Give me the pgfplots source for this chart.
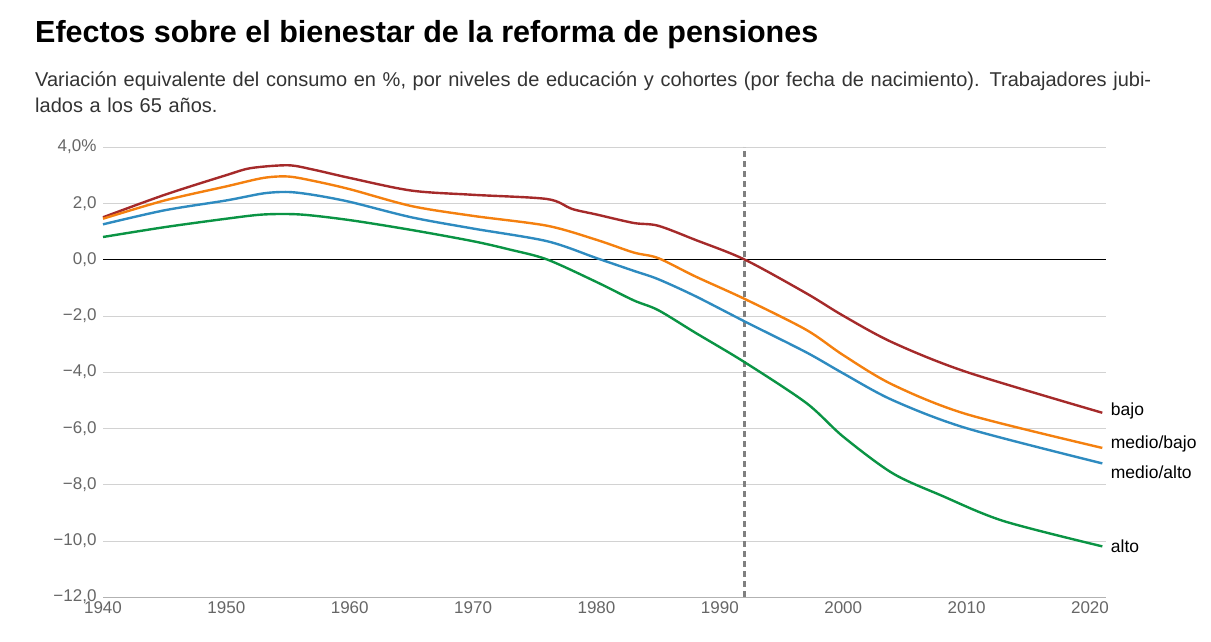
\documentclass[border=0pt]{standalone}
\usepackage{pgfplots}
\pgfplotsset{compat=1.18}
\usepackage{fontspec}
\setmainfont{Liberation Sans}
\definecolor{cr}{HTML}{A52A2A}
\definecolor{co}{HTML}{F4800F}
\definecolor{cb}{HTML}{2E8BC0}
\definecolor{cg}{HTML}{0A9444}
\definecolor{gt}{HTML}{666666}
\begin{document}
\begin{tikzpicture}[x=1pt,y=1pt]
\useasboundingbox (0,0) rectangle (1211,642);
\node[anchor=west,font=\bfseries\fontsize{30.5}{34}\selectfont,inner sep=0pt] at (35,607) {Efectos sobre el bienestar de la reforma de pensiones};
\node[anchor=north west,align=left,font=\fontsize{20}{25.5}\selectfont,text=black!80,text width=1120pt,inner sep=0pt] at (35,570) {Variación equivalente del consumo en \%, por niveles de educación y cohortes (por fecha de nacimiento). Trabajadores jubilados a los 65 años.};
\begin{axis}[at={(103pt,45pt)},anchor=south west,scale only axis,width=1003pt,height=450pt,
 xmin=1940,xmax=2021.3,ymin=-12,ymax=4,
 axis line style={draw=none},
 axis x line*=bottom,
 x axis line style={draw=gray!60},
 xtick={1940,1950,...,2020},
 xticklabels={1940,1950,1960,1970,1980,1990,2000,2010,2020},
 ytick={-12,-10,...,4},
 yticklabels={{−12,0},{−10,0},{−8,0},{−6,0},{−4,0},{−2,0},{0,0},{2,0},{4,0\%}},
 ymajorgrids, grid style={gray!35},
 major tick length=0pt,
 x tick label style={yshift=-1pt},
 tick label style={font=\fontsize{17}{20}\selectfont,text=gt},
 y tick label style={xshift=-3pt},
 clip=false]
\draw[black,line width=0.7pt] (axis cs:1940,0) -- (axis cs:2021.3,0);
\draw[gray,line width=2.2pt,dash pattern=on 6pt off 4pt] (axis cs:1992,-12) -- (axis cs:1992,4);
\addplot[cr,smooth,line width=2.4pt] coordinates {(1940,1.5)(1945,2.3)(1950,3.0)(1952,3.25)(1955,3.35)(1957,3.2)(1960,2.9)(1965,2.45)(1970,2.3)(1976,2.15)(1978,1.8)(1980,1.6)(1983,1.3)(1985,1.2)(1988,0.7)(1992,0)(1997,-1.2)(2000,-2.0)(2004,-2.95)(2010,-4.0)(2021,-5.45)};
\addplot[co,smooth,line width=2.4pt] coordinates {(1940,1.45)(1945,2.1)(1950,2.6)(1953,2.9)(1955,2.95)(1957,2.8)(1960,2.5)(1965,1.9)(1970,1.55)(1976,1.2)(1980,0.7)(1983,0.25)(1985,0.05)(1988,-0.6)(1992,-1.4)(1997,-2.5)(2000,-3.4)(2004,-4.45)(2010,-5.5)(2021,-6.7)};
\addplot[cb,smooth,line width=2.4pt] coordinates {(1940,1.25)(1945,1.75)(1950,2.1)(1953,2.35)(1955,2.4)(1957,2.3)(1960,2.05)(1965,1.5)(1970,1.1)(1976,0.65)(1980,0.05)(1983,-0.4)(1985,-0.7)(1988,-1.3)(1992,-2.2)(1997,-3.3)(2000,-4.05)(2004,-5.0)(2010,-6.0)(2021,-7.25)};
\addplot[cg,smooth,line width=2.4pt] coordinates {(1940,0.8)(1945,1.15)(1950,1.45)(1953,1.6)(1956,1.6)(1960,1.4)(1965,1.05)(1970,0.65)(1973,0.35)(1976,0.0)(1980,-0.8)(1983,-1.45)(1985,-1.8)(1988,-2.6)(1992,-3.65)(1997,-5.1)(2000,-6.3)(2004,-7.6)(2008,-8.4)(2013,-9.3)(2021,-10.2)};
\path[font=\fontsize{17.5}{20}\selectfont,anchor=west,inner sep=1pt]
 (axis cs:2021.6,-5.4) node {bajo}
 (axis cs:2021.6,-6.55) node {medio/bajo}
 (axis cs:2021.6,-7.55) node {medio/alto}
 (axis cs:2021.6,-10.2) node {alto};
\end{axis}
\end{tikzpicture}
\end{document}
